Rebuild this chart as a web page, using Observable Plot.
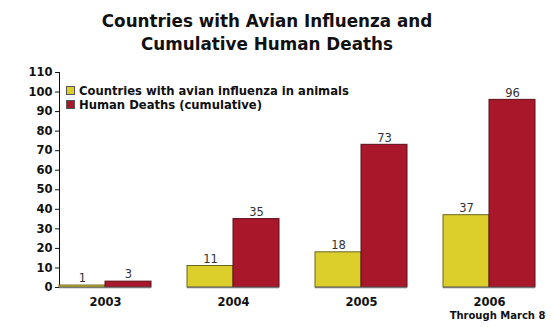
<!DOCTYPE html>
<html><head><meta charset="utf-8">
<script src="https://cdn.jsdelivr.net/npm/d3@7"></script>
<script src="https://cdn.jsdelivr.net/npm/@observablehq/plot@0.6"></script>
<style>
body{margin:0;background:#fff;font-family:"DejaVu Sans",Verdana,sans-serif;}
#wrap{position:relative;width:554px;height:327px;}
#title{position:absolute;left:0;top:10px;width:534px;text-align:center;font-weight:bold;font-size:16.8px;line-height:23px;color:#111;}
#chart{position:absolute;left:0;top:60px;}
#legend{position:absolute;left:66px;top:84px;font-weight:bold;font-size:11.6px;color:#111;line-height:14px;}
#legend .sw{display:inline-block;width:7px;height:7px;margin-right:4px;vertical-align:0px;border:1px solid #555;}
g[aria-label="y-axis tick label"], g[aria-label="fx-axis tick label"]{font-weight:bold;font-size:11.5px;fill:#111;}
g[aria-label="y-axis tick"], g[aria-label="y-axis line"]{stroke:#777;}
g[aria-label="fx-axis line"]{stroke:#777;stroke-width:1.5px;}
</style></head>
<body><div id="wrap">
<div id="title">Countries with Avian Influenza and<br>Cumulative Human Deaths</div>
<div id="chart"></div>
<div id="legend"></div>
</div>
<script>
const years = ["2003", "2004", "2005", "2006"];
const seriesNames = ["Countries with avian influenza in animals", "Human Deaths (cumulative)"];
const countries = [1, 11, 18, 37];
const deaths = [3, 35, 73, 96];
const colors = ["#dccf2c", "#a8182a"];
const strokes = ["#6b6420", "#5a1018"];
const yTicks = [0,10,20,30,40,50,60,70,80,90,100,110];
const note = "Through March 8";

const data = [];
years.forEach((y, i) => {
  data.push({year: y, series: seriesNames[0], value: countries[i]});
  data.push({year: y, series: seriesNames[1], value: deaths[i]});
});

const plot = Plot.plot({
  width: 554,
  height: 267,
  marginTop: 12,
  marginBottom: 40,
  marginLeft: 41,
  marginRight: 0,
  style: {fontFamily: "'DejaVu Sans', Verdana, sans-serif", background: "transparent", color: "#111"},
  fx: {domain: years, paddingInner: 0.28, paddingOuter: 0.14, label: null, tickSize: 0, tickPadding: 10, line: true},
  x: {domain: seriesNames, padding: 0, axis: null},
  y: {domain: [0, 110], ticks: yTicks, label: null, line: true, tickSize: 4, tickPadding: 3},
  color: {domain: seriesNames, range: colors},
  marks: [
    Plot.barY(data, {fx: "year", x: "series", y: "value", fill: "series",
      stroke: d => strokes[seriesNames.indexOf(d.series)], strokeWidth: 1, inset: 0}),
    Plot.text(data, {fx: "year", x: "series", y: "value", text: d => String(d.value),
      dy: -7, fontSize: 11.5, fill: "#333"}),
    Plot.ruleY([0], {stroke: "#777", strokeWidth: 1.5}),
    Plot.text([{year: "2006"}], {fx: "year", frameAnchor: "bottom", dy: 31, dx: 8,
      text: () => note, fontWeight: "bold", fontSize: 10, fill: "#111"})
  ]
});
document.getElementById("chart").appendChild(plot);

const leg = document.getElementById("legend");
seriesNames.forEach((s, i) => {
  const row = document.createElement("div");
  row.innerHTML = `<span class="sw" style="background:${colors[i]}"></span>${s}`;
  leg.appendChild(row);
});
</script>
</body></html>
